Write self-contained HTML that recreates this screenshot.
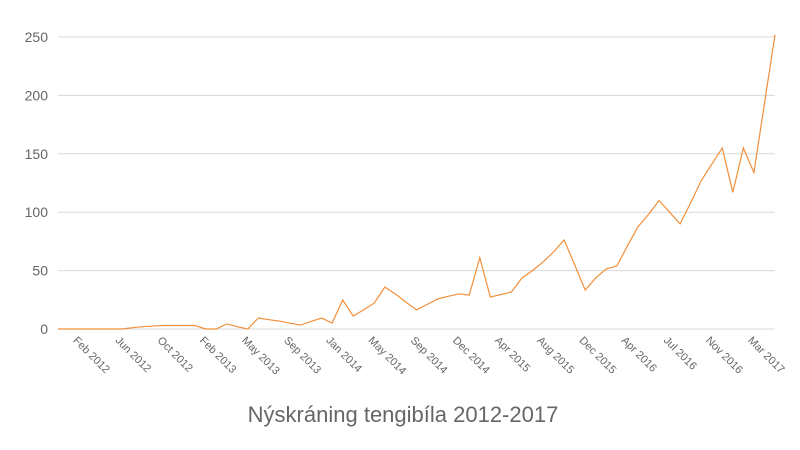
<!DOCTYPE html>
<html><head><meta charset="utf-8"><style>
body{margin:0;background:#fff;font-family:"Liberation Sans",sans-serif}
svg{display:block}
</style></head><body>
<svg id="chart" width="800" height="450" viewBox="0 0 800 450"></svg>
<script>
const yTicks=[0,50,100,150,200,250];
const values=[0,0,0,0,0,0,0,1,2,2.5,3,3,3,3,0,0,4.3,2,0,9.4,8,6.8,5,3.4,6.5,9.4,5.1,24.8,11.1,16.5,22.3,35.9,30,23,16.3,21,25.7,28,30,29,61,27.4,29.5,31.7,43.7,50,57.4,66,76.2,55,33.4,43.7,51.4,54,71,87.5,98,110,100,90,108,127,141,155,117,155,134,193,252];
const tickLabels=["Feb 2012","Jun 2012","Oct 2012","Feb 2013","May 2013","Sep 2013","Jan 2014","May 2014","Sep 2014","Dec 2014","Apr 2015","Aug 2015","Dec 2015","Apr 2016","Jul 2016","Nov 2016","Mar 2017"];
const NS="http://www.w3.org/2000/svg";
const svg=document.getElementById('chart');
const x0=58,x1=775,y0=329,y1=37;
const xs=i=>x0+i*(x1-x0)/(values.length-1);
const ys=v=>y0-v*(y0-y1)/250;
function mk(t,a){const e=document.createElementNS(NS,t);for(const k in a)e.setAttribute(k,a[k]);svg.appendChild(e);return e;}
yTicks.forEach(t=>{
  const g=mk('line',{x1:x0,x2:x1,y1:ys(t),y2:ys(t),stroke:'#d8d8d8','stroke-width':1});
  
  
  const l=mk('text',{x:48,y:ys(t)+5,'text-anchor':'end','font-size':14,fill:'#666'});
  l.textContent=t;
  
  
});
tickLabels.forEach((s,k)=>{
  const x=xs(1+4*k)+4,y=y0+12;
  const l=mk('text',{x:x,y:y,'font-size':11,fill:'#666',transform:`rotate(45 ${x} ${y})`});
  l.textContent=s;
  
  
});
const p=mk('polyline',{points:values.map((v,i)=>xs(i)+','+ys(v)).join(' '),fill:'none',stroke:'#f28f3b','stroke-width':1.2});


const t=mk('text',{x:403,y:422,'text-anchor':'middle','font-size':22,fill:'#666'});
t.textContent='Nýskráning tengibíla 2012-2017';


</script>
</body></html>
